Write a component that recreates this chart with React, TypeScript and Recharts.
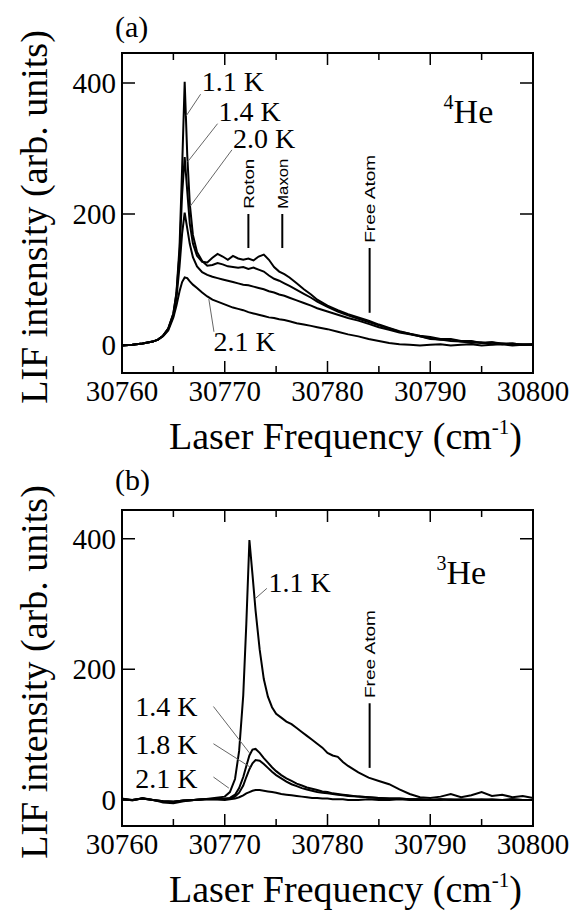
import React from "react";
import { LineChart, Line, XAxis, YAxis, ReferenceLine, ReferenceDot } from "recharts";

document.body.style.margin = "0";

// ---- data: panel (a), 4He ----
const freqA = [30760, 30761, 30762, 30763, 30763.5, 30764, 30764.5, 30765, 30765.3, 30765.6, 30765.85, 30766.1, 30766.35, 30766.6, 30766.9, 30767.3, 30767.8, 30768.3, 30768.8, 30769.3, 30769.8, 30770.3, 30770.8, 30771.3, 30771.8, 30772.3, 30772.8, 30773.3, 30773.8, 30774.3, 30774.8, 30775.3, 30775.8, 30776.3, 30777, 30777.7, 30778.4, 30779, 30780, 30781, 30782, 30783, 30784, 30785, 30786, 30787, 30788, 30789, 30790, 30791, 30792, 30793, 30794, 30795, 30796, 30797, 30798, 30799, 30800];
const he4_11K = [-1, 0, 2, 5, 8, 14, 25, 48, 80, 150, 270, 402, 290, 215, 168, 142, 128, 121, 122, 125, 123, 120, 119, 118, 119, 116, 118, 115, 112, 106, 101, 98, 94, 90, 84, 78, 72, 66, 58, 51, 45, 40, 35, 30, 25, 20, 17, 13, 10, 8, 8, 5, 5, 3, 4, 1, 2, 0, 1];
const he4_14K = [-1, 0, 2, 5, 8, 14, 25, 48, 78, 140, 230, 287, 235, 185, 155, 136, 127, 126, 133, 139, 135, 130, 136, 132, 130, 132, 129, 135, 138, 130, 119, 112, 108, 103, 94, 85, 77, 69, 60, 53, 47, 42, 37, 31, 26, 21, 17, 14, 12, 9, 9, 6, 6, 3, 4, 2, 2, 0, 1];
const he4_20K = [-1, 0, 2, 5, 8, 14, 24, 45, 72, 120, 170, 202, 178, 154, 134, 120, 111, 107, 104, 102, 100, 98, 96, 94, 92, 91, 89, 87, 85, 82, 80, 77, 75, 72, 68, 64, 60, 56, 51, 46, 41, 37, 32, 27, 23, 19, 16, 13, 9, 8, 6, 5, 3, 4, 1, 2, 0, 1, 0];
const he4_21K = [-1, 0, 2, 5, 8, 13, 22, 42, 60, 82, 96, 103, 102, 97, 92, 87, 80, 74, 69, 66, 63, 60, 57, 55, 53, 50, 48, 46, 44, 42, 41, 39, 38, 36, 33, 31, 29, 27, 24, 20, 16, 13, 9, 6, 3, 1, 0, -1, 0, 1, -1, 0, 1, -1, 0, 1, -1, 0, 0];

// ---- data: panel (b), 3He ----
const freqB = [30760, 30761, 30762, 30763, 30764, 30765, 30766, 30767, 30768, 30769, 30770, 30770.5, 30771, 30771.4, 30771.8, 30772.1, 30772.4, 30772.7, 30773, 30773.4, 30773.8, 30774.2, 30774.6, 30775, 30775.5, 30776, 30776.5, 30777, 30777.5, 30778, 30778.5, 30779, 30779.5, 30780, 30780.5, 30781, 30781.5, 30782, 30783, 30784, 30785, 30786, 30787, 30788, 30789, 30790, 30791, 30792, 30793, 30794, 30795, 30796, 30797, 30798, 30799, 30800];
const he3_11K = [2, -1, 3, 0, -4, -5, -2, 0, 1, 3, 5, 12, 32, 75, 160, 270, 398, 345, 290, 230, 185, 158, 142, 132, 126, 120, 116, 110, 104, 98, 92, 86, 80, 72, 68, 66, 58, 52, 42, 34, 29, 24, 16, 9, 4, 3, 5, 9, 4, 7, 12, 6, 8, 4, 6, 3];
const he3_14K = [1, 0, 2, 0, -2, -3, -1, 0, 1, 1, 2, 3, 8, 18, 35, 52, 68, 77, 78, 72, 64, 57, 50, 44, 38, 33, 29, 25, 22, 19, 17, 15, 13, 12, 10, 9, 8, 7, 5, 4, 3, 2, 2, 1, 1, 0, 1, 0, 1, 0, 0, 1, 0, 0, 0, 0];
const he3_18K = [1, 0, 2, 0, -2, -3, -1, 0, 1, 1, 1, 2, 5, 11, 22, 35, 47, 56, 61, 60, 55, 49, 43, 38, 33, 28, 24, 21, 18, 16, 14, 12, 11, 10, 9, 8, 7, 6, 5, 4, 3, 2, 2, 1, 1, 0, 0, 1, 0, 0, 1, 0, 0, 1, 0, 0];
const he3_21K = [1, 0, 2, 0, -2, -3, -1, 0, 1, 1, 0, 1, 2, 4, 7, 10, 12, 14, 15, 15, 14, 13, 12, 11, 9, 8, 7, 6, 5, 4, 3, 3, 2, 2, 1, 1, 1, 0, 0, 1, 0, 0, 1, 0, 0, 0, 1, 0, 0, 1, 0, 0, 0, 1, 0, 0];

const xTicks = [30760, 30765, 30770, 30775, 30780, 30785, 30790, 30795, 30800];
const yTicks = [0, 200, 400];
const X_MIN = 30760;
const X_MAX = 30800;

const SERIF = "Liberation Serif, Tinos, Times New Roman, DejaVu Serif, serif";
const SANS = "Liberation Sans, Arial, sans-serif";

const CHART_W = 574;
const PLOT_LEFT = 122;
const PLOT_RIGHT_GAP = 41;

type Note = { text: string; x: number; y: number };
type Seg = [number, number, number, number];
type Marker = { text: string; x: number; y1: number; y2: number; len: number };

const notesA: Note[] = [
  { text: "1.1 K", x: 30767.75, y: 388 },
  { text: "1.4 K", x: 30769.4, y: 342 },
  { text: "2.0 K", x: 30770.8, y: 301 },
  { text: "2.1 K", x: 30768.9, y: -9 },
];
const leadersA: Seg[] = [
  [30767.65, 383, 30766.25, 350],
  [30769.3, 338, 30766.4, 280],
  [30770.7, 298, 30766.65, 212],
  [30768.95, 20, 30768.45, 70],
];
const markersA: Marker[] = [
  { text: "Roton", x: 30772.3, y1: 148, y2: 200, len: 50 },
  { text: "Maxon", x: 30775.6, y1: 148, y2: 200, len: 50 },
  { text: "Free Atom", x: 30784.1, y1: 49, y2: 148, len: 88 },
];

const notesB: Note[] = [
  { text: "1.1 K", x: 30774.25, y: 319 },
  { text: "1.4 K", x: 30761.3, y: 128 },
  { text: "1.8 K", x: 30761.3, y: 71 },
  { text: "2.1 K", x: 30761.3, y: 18 },
];
const leadersB: Seg[] = [
  [30774.1, 324, 30772.95, 308],
  [30768.9, 143, 30772.4, 72],
  [30768.9, 86, 30772.5, 50],
  [30768.9, 35, 30770.4, 18],
];
const markersB: Marker[] = [{ text: "Free Atom", x: 30784.1, y1: 49, y2: 148, len: 88 }];

const zip = (xs: number[], ys: number[]) => xs.map((x, i) => ({ x, y: ys[i] }));

const BottomTick = (p: any) =>
  p.payload.value % 10 === 0 ? (
    <text x={p.x} y={p.y + 28} textAnchor="middle" fontFamily={SERIF} fontSize={29} fill="#000">
      {p.payload.value}
    </text>
  ) : (
    <g />
  );
const LeftTick = (p: any) => (
  <text x={p.x - 6} y={p.y + 10} textAnchor="end" fontFamily={SERIF} fontSize={29} fill="#000">
    {p.payload.value}
  </text>
);

const XLabel = (p: any) => {
  const vb = p.viewBox;
  return (
    <text x={vb.x + vb.width / 2 + 18} y={vb.y + 76} textAnchor="middle" fontFamily={SERIF} fontSize={38} fill="#000">
      Laser Frequency (cm
      <tspan dy={-15} fontSize={21}>-1</tspan>
      <tspan dy={15}>)</tspan>
    </text>
  );
};
const YLabel = (p: any) => {
  const vb = p.viewBox;
  const cx = 34;
  const cy = vb.y + vb.height / 2 + 4;
  return (
    <text x={cx} y={cy} transform={`rotate(-90 ${cx} ${cy})`} textAnchor="middle" dominantBaseline="central"
      fontFamily={SERIF} fontSize={38} fill="#000">
      LIF intensity (arb. units)
    </text>
  );
};

interface PanelProps {
  freq: number[];
  series: number[][];
  yDomain: [number, number];
  top: number;
  height: number;
  marginTop: number;
  xAxisHeight: number;
  notes: Note[];
  leaders: Seg[];
  markers: Marker[];
  mass: string;
  isoX: number;
  isoY: number;
}

// box and inward ticks on all four sides, laid over the plot area with the axis' own tick values
function Frame({ top, left, w, h, yDomain }: { top: number; left: number; w: number; h: number; yDomain: [number, number] }) {
  const sx = (v: number) => ((v - X_MIN) / (X_MAX - X_MIN)) * w;
  const sy = (v: number) => h - ((v - yDomain[0]) / (yDomain[1] - yDomain[0])) * h;
  let d = "";
  xTicks.forEach((t) => {
    const len = t % 10 === 0 ? 12 : 7;
    d += `M${sx(t)},${h}v${-len}M${sx(t)},0v${len}`;
  });
  yTicks.forEach((t) => {
    d += `M0,${sy(t)}h13M${w},${sy(t)}h-13`;
  });
  return (
    <svg width={w + 4} height={h + 4} viewBox={`-2 -2 ${w + 4} ${h + 4}`}
      style={{ position: "absolute", left: left - 2, top: top - 2, pointerEvents: "none", overflow: "visible" }}>
      <rect x={0} y={0} width={w} height={h} fill="none" stroke="#000" strokeWidth={2} />
      <path d={d} fill="none" stroke="#000" strokeWidth={1.5} />
    </svg>
  );
}

function Panel(props: PanelProps) {
  const { freq, series, yDomain, top, height, marginTop, xAxisHeight, notes, leaders, markers, mass, isoX, isoY } = props;
  const ax = { xAxisId: "b", yAxisId: "l" };
  const plotW = CHART_W - PLOT_LEFT - PLOT_RIGHT_GAP;
  const plotH = height - marginTop - xAxisHeight;

  const seg = (l: Seg, key: string, stroke: string, w: number) => (
    <ReferenceLine key={key} {...ax} segment={[{ x: l[0], y: l[1] }, { x: l[2], y: l[3] }]}
      stroke={stroke} strokeWidth={w} ifOverflow="visible" />
  );

  return (
    <div style={{ position: "absolute", left: 0, top, width: CHART_W, height }}>
      <LineChart width={CHART_W} height={height} margin={{ top: marginTop, right: PLOT_RIGHT_GAP, bottom: 0, left: 0 }}>
        <XAxis xAxisId="b" type="number" dataKey="x" domain={[X_MIN, X_MAX]} ticks={xTicks}
          interval={0} height={xAxisHeight} tickSize={0} tickMargin={0} tickLine={false}
          axisLine={false} tick={BottomTick} label={XLabel} />
        <YAxis yAxisId="l" type="number" domain={yDomain} ticks={yTicks} interval={0}
          width={PLOT_LEFT} tickSize={0} tickMargin={0} tickLine={false}
          axisLine={false} tick={LeftTick} label={YLabel} />

        {series.map((s, i) => (
          <Line key={i} {...ax} data={zip(freq, s)} dataKey="y" type="linear" dot={false} stroke="#000"
            strokeWidth={2} isAnimationActive={false} />
        ))}

        {leaders.map((l, i) => seg(l, "ld" + i, "#666", 1))}
        {markers.map((m, i) => seg([m.x, m.y1, m.x, m.y2], "mk" + i, "#000", 2))}

        {markers.map((m, i) => (
          <ReferenceDot key={"mt" + i} {...ax} x={m.x} y={m.y2 + 8} r={0} fill="none" stroke="none" ifOverflow="visible"
            label={(p: any) => {
              const cx = p.viewBox.x;
              const cy = p.viewBox.y;
              return (
                <text x={cx} y={cy} transform={`rotate(-90 ${cx} ${cy})`} dominantBaseline="central"
                  fontFamily={SANS} fontSize={15} textLength={m.len} lengthAdjust="spacingAndGlyphs" fill="#000">
                  {m.text}
                </text>
              );
            }} />
        ))}

        {notes.map((n, i) => (
          <ReferenceDot key={"nt" + i} {...ax} x={n.x} y={n.y} r={0} fill="none" stroke="none" ifOverflow="visible"
            label={(p: any) => (
              <text x={p.viewBox.x} y={p.viewBox.y} fontFamily={SERIF} fontSize={28} fill="#000">{n.text}</text>
            )} />
        ))}

        <ReferenceDot {...ax} x={isoX} y={isoY} r={0} fill="none" stroke="none" ifOverflow="visible"
          label={(p: any) => (
            <text x={p.viewBox.x} y={p.viewBox.y} fontFamily={SERIF} fontSize={34} fill="#000">
              <tspan fontSize={20} dy={-14}>{mass}</tspan>
              <tspan dy={14}>He</tspan>
            </text>
          )} />
      </LineChart>
      <Frame top={marginTop} left={PLOT_LEFT} w={plotW} h={plotH} yDomain={yDomain} />
    </div>
  );
}

export default function App() {
  const tag: React.CSSProperties = { position: "absolute", left: 115, fontFamily: SERIF, fontSize: 30, lineHeight: "30px" };
  return (
    <div style={{ position: "relative", width: 574, height: 919, background: "#fff", overflow: "hidden" }}>
      <Panel freq={freqA} series={[he4_11K, he4_14K, he4_20K, he4_21K]} yDomain={[-43, 446]} top={0} height={470}
        marginTop={53} xAxisHeight={97} notes={notesA} leaders={leadersA} markers={markersA}
        mass="4" isoX={30791.3} isoY={339} />
      <Panel freq={freqB} series={[he3_11K, he3_14K, he3_18K, he3_21K]} yDomain={[-40, 444]} top={440} height={479}
        marginTop={70} xAxisHeight={93} notes={notesB} leaders={leadersB} markers={markersB}
        mass="3" isoX={30790.6} isoY={331} />
      <div style={{ ...tag, top: 12 }}>(a)</div>
      <div style={{ ...tag, top: 465 }}>(b)</div>
    </div>
  );
}
